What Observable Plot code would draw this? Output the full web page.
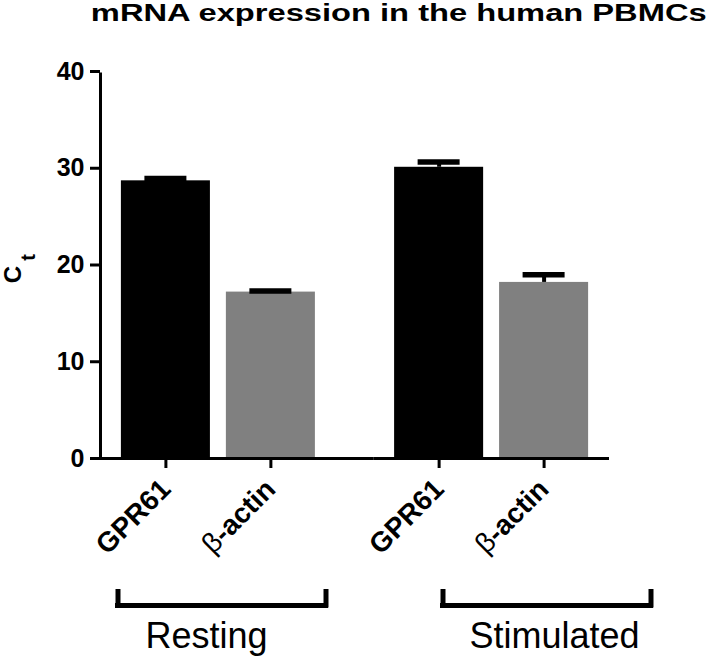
<!DOCTYPE html>
<html>
<head>
<meta charset="utf-8">
<script src="https://cdn.jsdelivr.net/npm/d3@7"></script>
<script src="https://cdn.jsdelivr.net/npm/@observablehq/plot@0.6"></script>
<style>
  body { margin: 0; background: #fff; font-family: "Liberation Sans", Arial, sans-serif; }
  #title { position: relative; width: 709px; height: 40px; overflow: visible; }
  #title span { position: absolute; right: 2px; top: 0; font-weight: bold; font-size: 23px; line-height: 26px;
    white-space: nowrap; transform: scaleX(1.42); transform-origin: right center; color: #000; }
  #chart svg { display: block; overflow: visible; }
</style>
</head>
<body>
<div id="title"><span></span></div>
<div id="chart"></div>
<script>
// ---- data ----
const title = "mRNA expression in the human PBMCs";
const groups = ["Resting", "Stimulated"];
const genes = ["GPR61", "β-actin"];
const barGroup = ["Resting", "Resting", "Stimulated", "Stimulated"];
const barGene = ["GPR61", "β-actin", "GPR61", "β-actin"];
const ctMean = [28.7, 17.2, 30.1, 18.2];
const ctSem = [0.25, 0.1, 0.55, 0.8];
const yTicks = [0, 10, 20, 30, 40];
const geneColors = ["#000000", "#808080"];
const yLabelMain = "C";
const yLabelSub = "t";

document.querySelector("#title span").textContent = title;

const bars = barGene.map((gene, i) => ({group: barGroup[i], gene, ct: ctMean[i], top: ctMean[i] + ctSem[i]}));

// ---- layout ----
const W = 709, H = 620, mL = 100, mR = 100, mT = 31, mB = 202;
const fxPI = 0.137, fxPO = 0, xPI = 0.152, xPO = 0.199;
const fStep = (W - mL - mR) / (groups.length - fxPI + 2 * fxPO);
const fBand = fStep * (1 - fxPI);
const facetLeft = i => mL + fxPO * fStep + i * fStep;
const xStep = fBand / (genes.length - xPI + 2 * xPO);
const xBand = xStep * (1 - xPI);
const geneCenter = j => xPO * xStep + j * xStep + xBand / 2;

const plotBottom = H - mB;
const font = "'Liberation Sans', Arial, sans-serif";

// bracket annotation (page x extents), drawn relative to facets
function bracket(gi, x0, x1) {
  const d = [{group: groups[gi]}];
  const left = facetLeft(gi), right = left + fBand, lw = 5;
  const yLine = 565;           // svg y of the bracket bar
  const yTop = 549;            // svg y where the ends start
  return [
    Plot.ruleY(d, {fx: "group", y: () => 0, dy: yLine - plotBottom,
      insetLeft: x0 - left, insetRight: right - x1, strokeWidth: lw}),
    Plot.ruleX(d, {fx: "group", x: () => genes[0], dx: x0 + lw / 2 - (left + geneCenter(0)),
      insetTop: yTop - mT, insetBottom: plotBottom - (yLine + lw / 2), strokeWidth: lw}),
    Plot.ruleX(d, {fx: "group", x: () => genes[1], dx: x1 - lw / 2 - (left + geneCenter(1)),
      insetTop: yTop - mT, insetBottom: plotBottom - (yLine + lw / 2), strokeWidth: lw})
  ];
}

function groupLabel(gi, cx) {
  const left = facetLeft(gi);
  return Plot.text([{group: groups[gi]}], {fx: "group", text: "group", frameAnchor: "bottom",
    textAnchor: "middle", lineAnchor: "middle",
    dx: cx - (left + fBand / 2), dy: 178, fontSize: 36, fill: "#000"});
}

const chart = Plot.plot({
  width: W, height: H,
  marginLeft: mL, marginRight: mR, marginTop: mT, marginBottom: mB,
  style: {fontFamily: font, color: "#000", background: "#fff", overflow: "visible"},
  fx: {domain: groups, paddingInner: fxPI, paddingOuter: fxPO, round: false, axis: null, label: null},
  x: {domain: genes, paddingInner: xPI, paddingOuter: xPO, round: false, label: null},
  y: {domain: [0, 40], label: null},
  color: {domain: genes, range: geneColors},
  marks: [
    Plot.barY(bars, {fx: "group", x: "gene", y: "ct", fill: "gene"}),
    Plot.ruleX(bars, {fx: "group", x: "gene", y1: "ct", y2: "top", stroke: "#000", strokeWidth: 4}),
    Plot.tickY(bars, {fx: "group", x: "gene", y: "top", stroke: "#000", strokeWidth: 5.5,
      insetLeft: (xBand - 42) / 2, insetRight: (xBand - 42) / 2}),
    // axis lines
    Plot.ruleX([{group: groups[0]}], {fx: "group", x: () => genes[0], dx: -geneCenter(0),
      y1: () => 0, y2: () => 40, strokeWidth: 3, insetBottom: -1.5}),
    Plot.ruleY([{group: groups[0]}], {fx: "group", y: () => 0, strokeWidth: 3,
      insetLeft: -1.5, insetRight: -(fStep - fBand)}),
    Plot.ruleY([{group: groups[1]}], {fx: "group", y: () => 0, strokeWidth: 3}),
    Plot.axisY({ticks: yTicks, tickSize: 10, tickPadding: 6, strokeWidth: 3,
      fontSize: 25, fontWeight: "bold", label: null}),
    Plot.axisX({tickSize: 10, tickPadding: 16, strokeWidth: 3, tickRotate: -45,
      fontSize: 28, fontWeight: "bold", label: null}),
    // y label C_t
    Plot.text([{group: groups[0]}], {fx: "group", text: () => yLabelMain, frameAnchor: "left",
      textAnchor: "middle", lineAnchor: "middle",
      rotate: -90, dx: -87, dy: 9.5, fontSize: 24, fontWeight: "bold"}),
    Plot.text([{group: groups[0]}], {fx: "group", text: () => yLabelSub, frameAnchor: "left",
      textAnchor: "middle", lineAnchor: "middle",
      rotate: -90, dx: -72, dy: -7.5, fontSize: 20, fontWeight: "bold"}),
    ...bracket(0, 115, 328),
    ...bracket(1, 440, 653),
    groupLabel(0, 206),
    groupLabel(1, 554)
  ]
});

document.getElementById("chart").appendChild(chart);

// β in regular weight, rest bold (as in the original)
d3.select(chart).selectAll("text").each(function() {
  const t = d3.select(this);
  if (this.textContent === "β-actin" && this.children.length === 0) {
    t.text(null);
    t.append("tspan").attr("font-weight", "normal").text("β");
    t.append("tspan").text("-actin");
  }
});
</script>
</body>
</html>
